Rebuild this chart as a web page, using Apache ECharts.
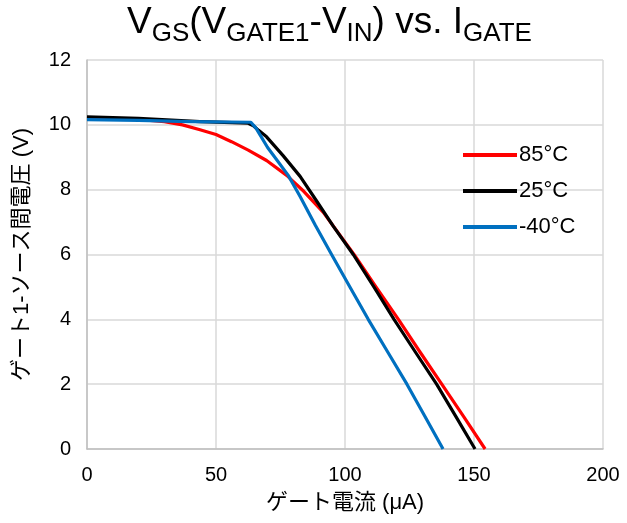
<!DOCTYPE html>
<html><head><meta charset="utf-8">
<script src="https://cdn.jsdelivr.net/npm/echarts@6/dist/echarts.min.js"></script>
<style>html,body{margin:0;padding:0;background:#fff}#c{width:627px;height:523px}</style>
</head><body><div id="c"></div>
<script>
const seriesNames = ['85°C', '25°C', '-40°C'];
const colors = ['#ff0000', '#000000', '#0070c0'];
const xTicks = [0, 50, 100, 150, 200];
const yTicks = [0, 2, 4, 6, 8, 10, 12];

const red_x = [0, 20, 30, 37, 43.8, 50, 56, 62.5, 69.6, 77.4, 84, 91.6, 103.5, 112, 120.7, 129, 137.5, 146, 154.3];
const red_y = [10.18, 10.17, 10.1, 10.0, 9.85, 9.7, 9.48, 9.22, 8.9, 8.44, 7.95, 7.3, 6.0, 5.0, 4.0, 3.0, 2.0, 1.0, 0];
const black_x = [0, 20, 43.8, 62.5, 64.5, 66.5, 69.6, 76, 82.6, 89, 95.5, 103.2, 111.2, 119, 127.2, 135.5, 143, 150.4];
const black_y = [10.25, 10.2, 10.1, 10.05, 9.97, 9.83, 9.63, 9.05, 8.41, 7.65, 6.87, 6.0, 5.0, 4.0, 3.0, 2.0, 1.0, 0];
const blue_x = [0, 20, 40, 63.5, 65.5, 70, 78, 82.6, 88.5, 94.8, 101.9, 109, 116.5, 124, 131, 138];
const blue_y = [10.16, 10.14, 10.1, 10.08, 9.9, 9.3, 8.44, 7.79, 6.9, 6.0, 5.0, 4.0, 3.0, 2.0, 1.0, 0];

const xs = [red_x, black_x, blue_x];
const ys = [red_y, black_y, blue_y];

const chart = echarts.init(document.getElementById('c'));
const latin = 'Liberation Sans, Arial, sans-serif';
const jp = 'Liberation Sans, "Noto Sans CJK JP", sans-serif';

chart.setOption({
  animation: false,
  backgroundColor: '#ffffff',
  title: {
    text: '{m|V}{s|GS}{m|(V}{s|GATE1}{m|-V}{s|IN}{m|) vs. I}{s|GATE}',
    left: 127,
    top: 3,
    padding: 0,
    textStyle: {
      fontWeight: 'normal',
      rich: {
        m: { fontFamily: latin, fontSize: 37, fontWeight: 'normal', color: '#000', verticalAlign: 'bottom', lineHeight: 44, padding: [0, 0, 6, 0] },
        s: { fontFamily: latin, fontSize: 26, fontWeight: 'normal', color: '#000', verticalAlign: 'bottom', lineHeight: 30 }
      }
    }
  },
  grid: { left: 87, right: 24, top: 60, bottom: 74, containLabel: false },
  legend: {
    orient: 'vertical',
    left: 458,
    top: 139,
    itemWidth: 54,
    itemHeight: 4,
    itemGap: 14,
    icon: 'rect',
    textStyle: { fontFamily: latin, fontSize: 22, color: '#000', padding: [0,0,0,-3] },
    data: seriesNames
  },
  xAxis: {
    type: 'value', min: 0, max: 200, interval: 50,
    name: 'ゲート電流 (μA)', nameLocation: 'middle', nameGap: 43,
    nameTextStyle: { fontFamily: jp, fontSize: 22, color: '#000' },
    axisLine: { show: true, lineStyle: { color: '#bfbfbf', width: 1.5 } },
    axisTick: { show: false },
    axisLabel: { fontFamily: latin, fontSize: 20, color: '#000', margin: 16, formatter: v => xTicks.includes(v) ? String(v) : '' },
    splitLine: { show: true, lineStyle: { color: '#d9d9d9', width: 1.5 } }
  },
  yAxis: {
    type: 'value', min: 0, max: 12, interval: 2,
    name: 'ゲート1-ソース間電圧 (V)', nameLocation: 'middle', nameGap: 54,
    nameTextStyle: { fontFamily: jp, fontSize: 22, color: '#000' },
    axisLine: { show: true, lineStyle: { color: '#bfbfbf', width: 1.5 } },
    axisTick: { show: false },
    axisLabel: { fontFamily: latin, fontSize: 20, color: '#000', margin: 16, formatter: v => yTicks.includes(v) ? String(v) : '' },
    splitLine: { show: true, lineStyle: { color: '#d9d9d9', width: 1.5 } }
  },
  series: seriesNames.map((n, i) => ({
    name: n,
    type: 'line',
    data: xs[i].map((x, j) => [x, ys[i][j]]),
    showSymbol: false,
    symbol: 'none',
    smooth: false,
    lineStyle: { color: colors[i], width: 3.2, join: 'round' },
    itemStyle: { color: colors[i] },
    z: 2 + i
  }))
});
</script>
</body></html>
